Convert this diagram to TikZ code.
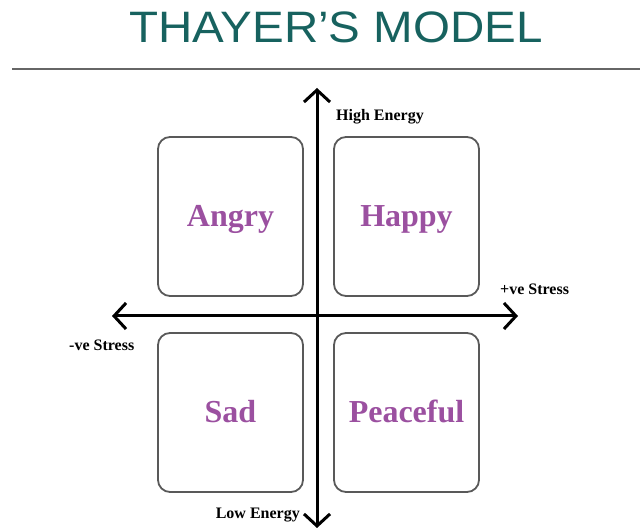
\documentclass[tikz,border=0pt]{standalone}
\usepackage{fontspec}
\setmainfont{Liberation Serif}
\newfontfamily\titlefont{Liberation Sans}
\usepackage{tikz}
\usetikzlibrary{arrows.meta,positioning}
\definecolor{titleteal}{RGB}{23,98,95}
\definecolor{moodpurple}{RGB}{155,80,160}

\begin{document}
\begin{tikzpicture}[x=1pt, y=1pt, >={Straight Barb[length=12pt,width=26pt]}, node distance=176pt]
\tikzstyle{mood}=[draw=black!65, line width=1.8pt, rounded corners=12pt, minimum width=145pt, minimum height=159pt, text=moodpurple, font=\fontsize{32}{32}\selectfont\bfseries, text height=21pt, text depth=0pt]
\tikzstyle{axislabel}=[font=\fontsize{16}{16}\selectfont\bfseries, inner sep=0pt]
\useasboundingbox (0,0) rectangle (640,530);
% title and rule
\node[font=\titlefont\fontsize{44}{44}\selectfont, text=titleteal, anchor=base, xscale=1.08] (title) at (336,487) {THAYER’S MODEL};
\coordinate (rl) at (12,461);
\coordinate (rr) at (640,461);
\draw[black!60, line width=2pt] (rl) -- (rr);
% quadrants
\node[mood]    (angry)    at (230.5,313.5)                      {Angry};
\node[mood]    (happy)    [right of=angry]                      {Happy};
\node[mood]    (sad)      [below of=angry, node distance=196pt] {Sad};
\node[mood]    (peaceful) [right of=sad]                        {Peaceful};
% axes
\coordinate (N) at (317,442);
\coordinate (S) at (317,2);
\coordinate (W) at (112,214);
\coordinate (E) at (518,214);
\draw[<->, line width=3pt] (N) -- (S);
\draw[<->, line width=3pt] (W) -- (E);
\node[axislabel, anchor=base west] (high) at (336,409) {High Energy};
\node[axislabel, anchor=base west] (pos)  at (500,235) {+ve Stress};
\node[axislabel, anchor=base west] (neg)  at (69,179)  {-ve Stress};
\node[axislabel, anchor=base east] (low)  at (300,11)  {Low Energy};
\end{tikzpicture}
\end{document}
